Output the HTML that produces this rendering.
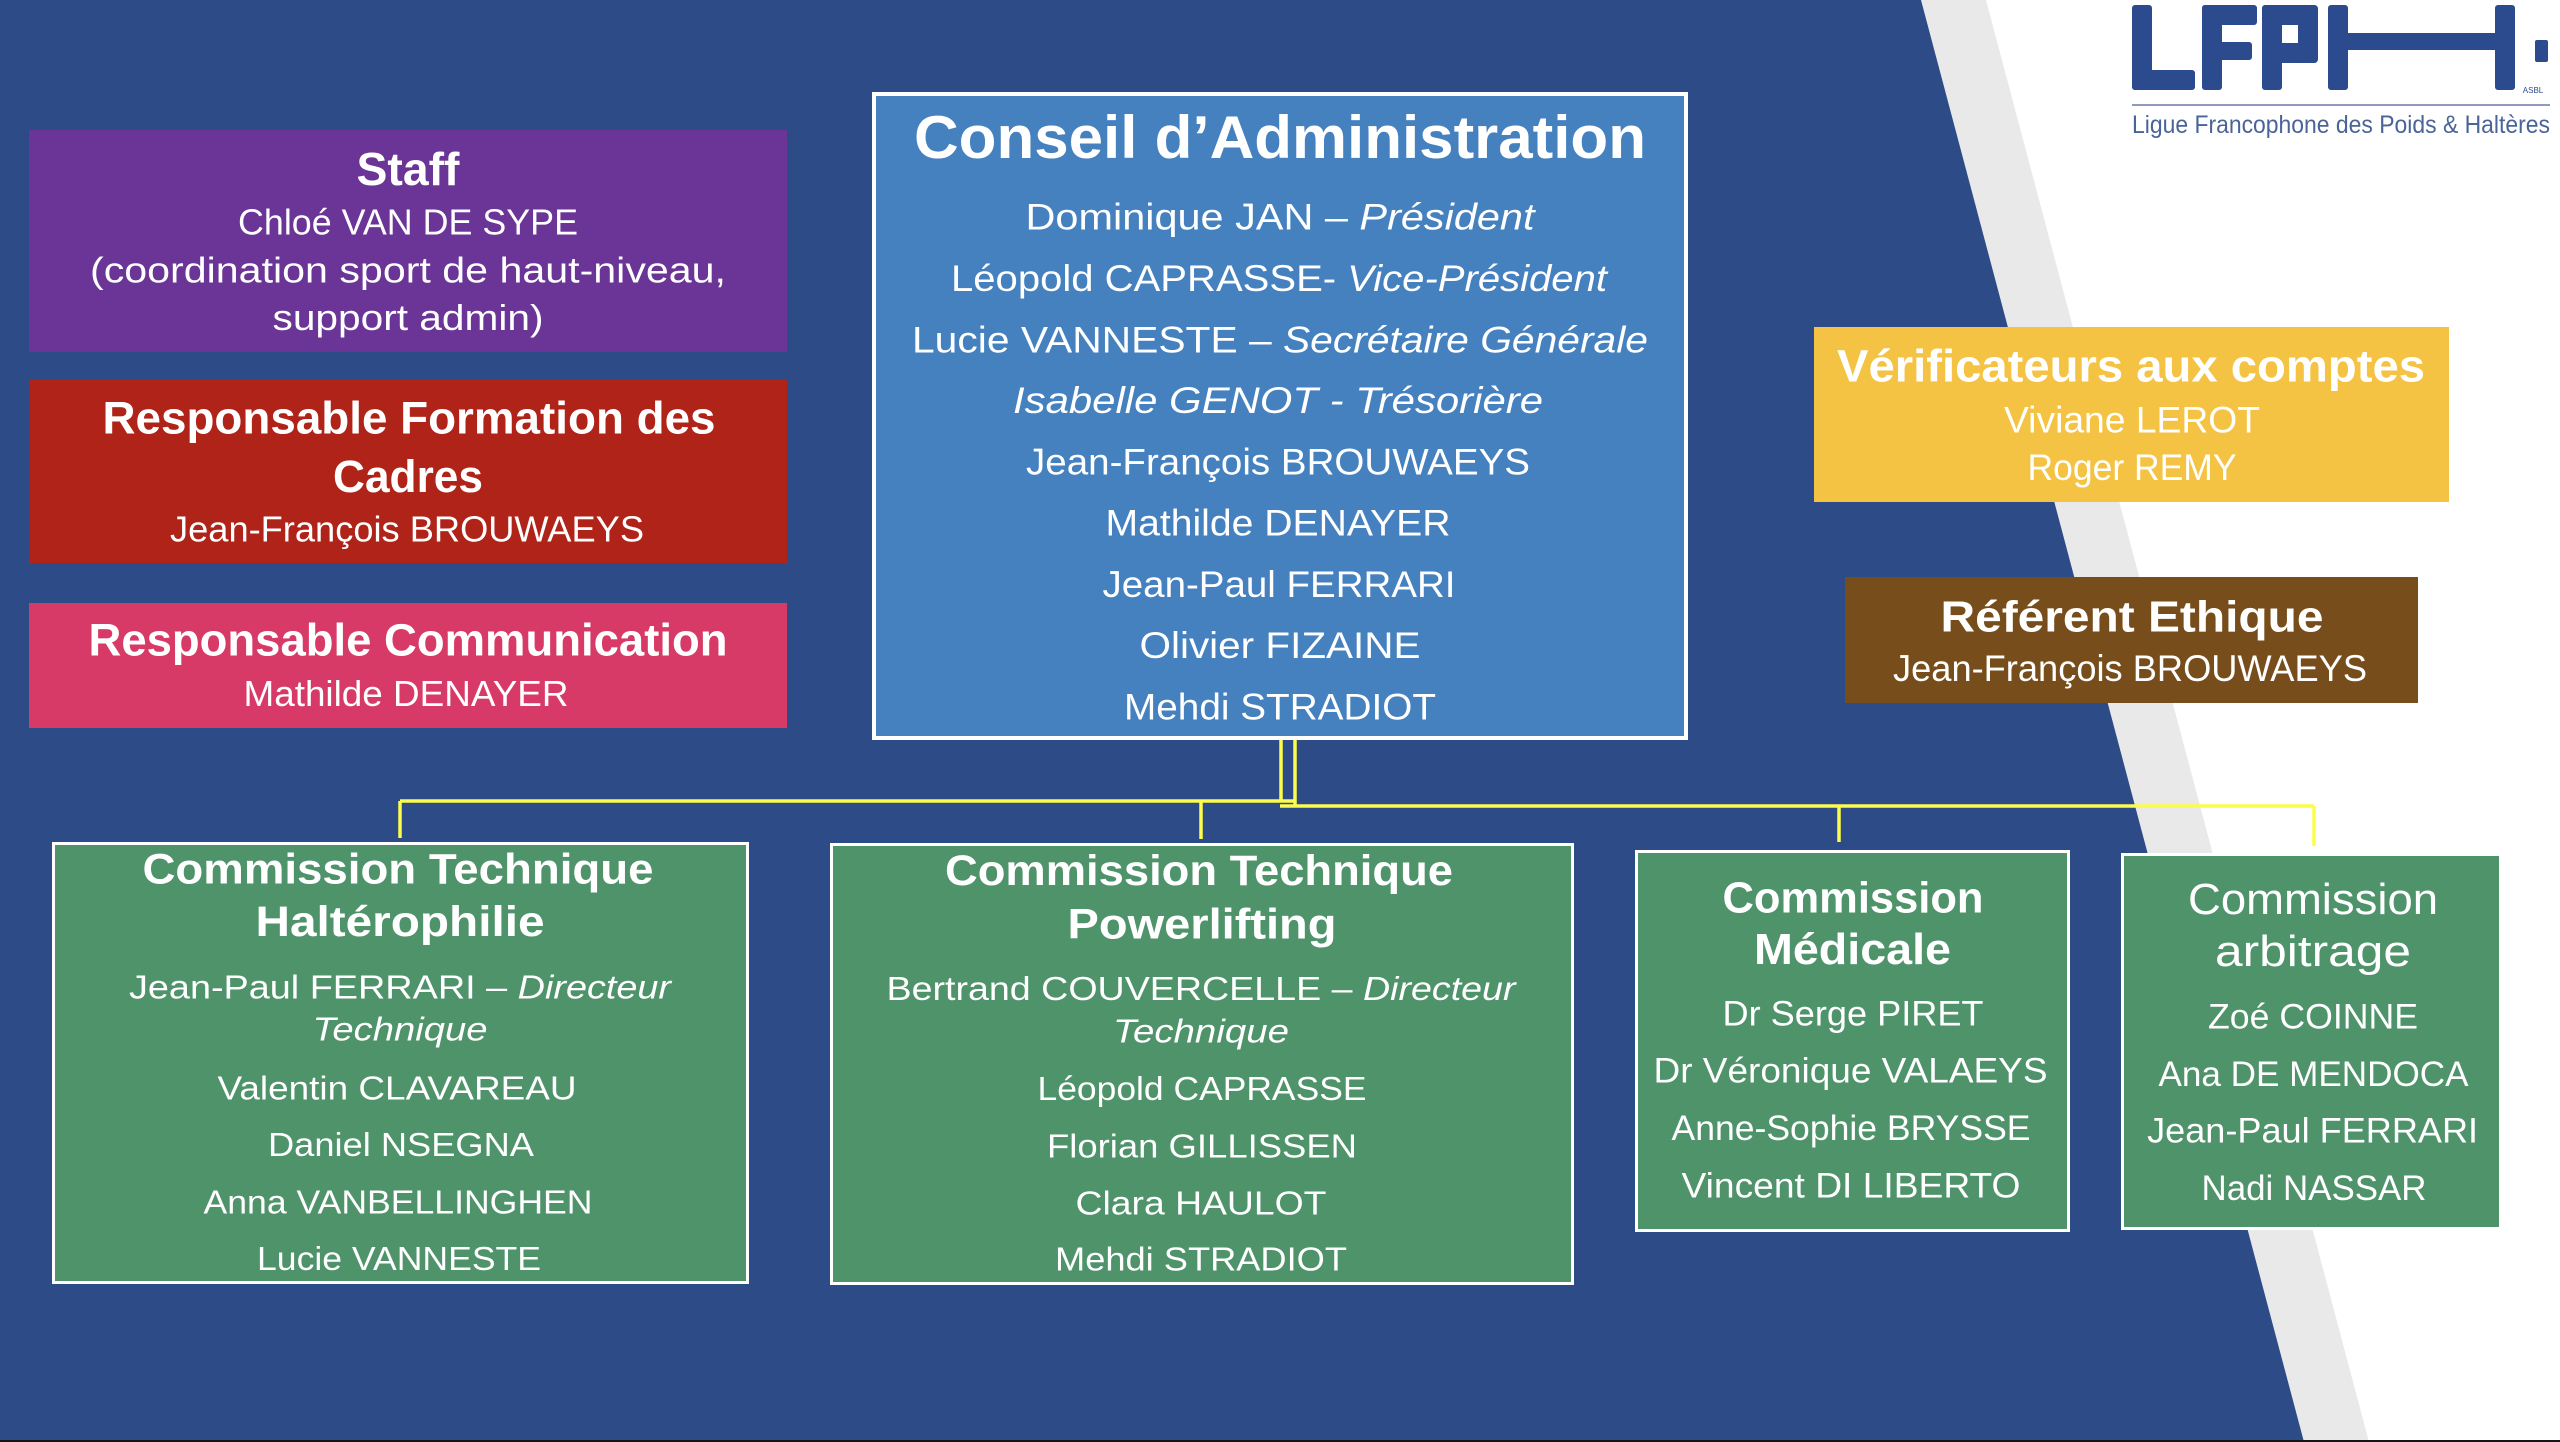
<!DOCTYPE html>
<html>
<head>
<meta charset="utf-8">
<style>
html,body{margin:0;padding:0;background:#fff;}
body{width:2560px;height:1442px;overflow:hidden;}
svg{display:block;}
text{font-family:"Liberation Sans", Arial, sans-serif;fill:#fff;}
.b{font-weight:bold;}
.i{font-style:italic;}
</style>
</head>
<body>
<svg width="2560" height="1442" viewBox="0 0 2560 1442" xmlns="http://www.w3.org/2000/svg">
  <!-- background -->
  <rect x="0" y="0" width="2560" height="1442" fill="#ffffff"/>
  <polygon points="1921,0 1986,0 2369,1442 2304,1442" fill="#e9e9e9"/>
  <polygon points="0,0 1921,0 2304,1442 0,1442" fill="#2d4b87"/>
  <rect x="0" y="1440" width="2560" height="2" fill="#141414"/>

  <!-- Logo -->
  <g fill="#2c4a8e">
    <rect x="2132" y="5" width="20" height="85" rx="3"/>
    <rect x="2132" y="70" width="63" height="20" rx="3"/>
    <rect x="2202" y="5" width="20" height="85" rx="3"/>
    <rect x="2202" y="5" width="55" height="20" rx="3"/>
    <rect x="2202" y="42" width="50" height="18" rx="3"/>
    <rect x="2262" y="5" width="20" height="85" rx="3"/>
    <rect x="2262" y="5" width="56" height="20" rx="4"/>
    <rect x="2262" y="43" width="56" height="20" rx="4"/>
    <rect x="2298" y="5" width="20" height="58" rx="4"/>
    <rect x="2328" y="5" width="20" height="85" rx="3"/>
    <rect x="2346" y="33" width="151" height="17"/>
    <rect x="2495" y="5" width="20" height="85" rx="3"/>
    <rect x="2535" y="40" width="13" height="22" rx="2"/>
  </g>
  <text x="2533" y="93" font-size="8" text-anchor="middle" style="fill:#2c4a8e">ASBL</text>
  <rect x="2132" y="104" width="418" height="2" fill="#8d9cbc"/>
  <text x="2341" y="133" font-size="25" text-anchor="middle" textLength="418" lengthAdjust="spacingAndGlyphs" style="fill:#4a6499">Ligue Francophone des Poids &amp; Haltères</text>

  <!-- Connectors -->
  <g stroke="#fcfc4c" stroke-width="3.5" fill="none">
    <line x1="1281" y1="740" x2="1281" y2="801"/>
    <line x1="1295" y1="740" x2="1295" y2="806"/>
    <line x1="400" y1="801" x2="1295" y2="801"/>
    <line x1="1280" y1="806" x2="2314" y2="806"/>
    <line x1="400" y1="801" x2="400" y2="838"/>
    <line x1="1201" y1="801" x2="1201" y2="839"/>
    <line x1="1839" y1="806" x2="1839" y2="842"/>
    <line x1="2314" y1="806" x2="2314" y2="846"/>
  </g>

  <!-- Left boxes -->
  <rect x="29" y="130" width="758" height="222" fill="#6a3596"/>
  <text x="408" y="185" font-size="46" class="b" text-anchor="middle" textLength="103" lengthAdjust="spacingAndGlyphs">Staff</text>
  <text x="408" y="234.7" font-size="36" text-anchor="middle" textLength="340" lengthAdjust="spacingAndGlyphs">Chloé VAN DE SYPE</text>
  <text x="408" y="282.4" font-size="36" text-anchor="middle" textLength="636" lengthAdjust="spacingAndGlyphs">(coordination sport de haut-niveau,</text>
  <text x="408" y="330" font-size="36" text-anchor="middle" textLength="271" lengthAdjust="spacingAndGlyphs">support admin)</text>

  <rect x="29" y="380" width="758" height="183" fill="#b02318"/>
  <text x="409" y="433.7" font-size="45" class="b" text-anchor="middle" textLength="613" lengthAdjust="spacingAndGlyphs">Responsable Formation des</text>
  <text x="408" y="491.8" font-size="45" class="b" text-anchor="middle" textLength="150" lengthAdjust="spacingAndGlyphs">Cadres</text>
  <text x="407" y="541.5" font-size="36" text-anchor="middle" textLength="474" lengthAdjust="spacingAndGlyphs">Jean-François BROUWAEYS</text>

  <rect x="29" y="603" width="758" height="125" fill="#d73a66"/>
  <text x="408" y="655.6" font-size="45" class="b" text-anchor="middle" textLength="639" lengthAdjust="spacingAndGlyphs">Responsable Communication</text>
  <text x="406" y="706" font-size="36" text-anchor="middle" textLength="325" lengthAdjust="spacingAndGlyphs">Mathilde DENAYER</text>

  <!-- Conseil d'Administration -->
  <rect x="874" y="94" width="812" height="644" fill="#4581bf" stroke="#ffffff" stroke-width="4"/>
  <text x="1280" y="158" font-size="60" class="b" text-anchor="middle" textLength="732" lengthAdjust="spacingAndGlyphs">Conseil d’Administration</text>
  <text x="1280" y="229.6" font-size="37" text-anchor="middle" textLength="509" lengthAdjust="spacingAndGlyphs">Dominique JAN – <tspan class="i">Président</tspan></text>
  <text x="1279" y="291.2" font-size="37" text-anchor="middle" textLength="656" lengthAdjust="spacingAndGlyphs">Léopold CAPRASSE- <tspan class="i">Vice-Président</tspan></text>
  <text x="1280" y="352.3" font-size="37" text-anchor="middle" textLength="736" lengthAdjust="spacingAndGlyphs">Lucie VANNESTE – <tspan class="i">Secrétaire Générale</tspan></text>
  <text x="1278" y="413" font-size="37" class="i" text-anchor="middle" textLength="530" lengthAdjust="spacingAndGlyphs">Isabelle GENOT - Trésorière</text>
  <text x="1278" y="474.6" font-size="37" text-anchor="middle" textLength="504" lengthAdjust="spacingAndGlyphs">Jean-François BROUWAEYS</text>
  <text x="1278" y="535.3" font-size="37" text-anchor="middle" textLength="345" lengthAdjust="spacingAndGlyphs">Mathilde DENAYER</text>
  <text x="1279" y="596.9" font-size="37" text-anchor="middle" textLength="353" lengthAdjust="spacingAndGlyphs">Jean-Paul FERRARI</text>
  <text x="1280" y="658" font-size="37" text-anchor="middle" textLength="281" lengthAdjust="spacingAndGlyphs">Olivier FIZAINE</text>
  <text x="1280" y="719.6" font-size="37" text-anchor="middle" textLength="312" lengthAdjust="spacingAndGlyphs">Mehdi STRADIOT</text>

  <!-- Right boxes -->
  <rect x="1814" y="327" width="635" height="175" fill="#f5c343"/>
  <text x="2131" y="381.7" font-size="45" class="b" text-anchor="middle" textLength="588" lengthAdjust="spacingAndGlyphs">Vérificateurs aux comptes</text>
  <text x="2132" y="432.7" font-size="37" text-anchor="middle" textLength="256" lengthAdjust="spacingAndGlyphs">Viviane LEROT</text>
  <text x="2132" y="480" font-size="37" text-anchor="middle" textLength="209" lengthAdjust="spacingAndGlyphs">Roger REMY</text>

  <rect x="1845" y="577" width="573" height="126" fill="#774e1b"/>
  <text x="2132" y="631.7" font-size="44" class="b" text-anchor="middle" textLength="383" lengthAdjust="spacingAndGlyphs">Référent Ethique</text>
  <text x="2130" y="681" font-size="37" text-anchor="middle" textLength="474" lengthAdjust="spacingAndGlyphs">Jean-François BROUWAEYS</text>

  <!-- Commission Technique Haltérophilie -->
  <rect x="53.5" y="843.5" width="694" height="439" fill="#4f936b" stroke="#ffffff" stroke-width="3"/>
  <text x="398" y="883.3" font-size="43" class="b" text-anchor="middle" textLength="511" lengthAdjust="spacingAndGlyphs">Commission Technique</text>
  <text x="400" y="936" font-size="43" class="b" text-anchor="middle" textLength="289" lengthAdjust="spacingAndGlyphs">Haltérophilie</text>
  <text x="400" y="998.3" font-size="33" text-anchor="middle" textLength="542" lengthAdjust="spacingAndGlyphs">Jean-Paul FERRARI – <tspan class="i">Directeur</tspan></text>
  <text x="400" y="1040.7" font-size="33" class="i" text-anchor="middle" textLength="175" lengthAdjust="spacingAndGlyphs">Technique</text>
  <text x="397" y="1099.3" font-size="33" text-anchor="middle" textLength="359" lengthAdjust="spacingAndGlyphs">Valentin CLAVAREAU</text>
  <text x="401" y="1156" font-size="33" text-anchor="middle" textLength="266" lengthAdjust="spacingAndGlyphs">Daniel NSEGNA</text>
  <text x="398" y="1213.3" font-size="33" text-anchor="middle" textLength="389" lengthAdjust="spacingAndGlyphs">Anna VANBELLINGHEN</text>
  <text x="399" y="1270" font-size="33" text-anchor="middle" textLength="284" lengthAdjust="spacingAndGlyphs">Lucie VANNESTE</text>

  <!-- Commission Technique Powerlifting -->
  <rect x="831.5" y="844.5" width="741" height="439" fill="#4f936b" stroke="#ffffff" stroke-width="3"/>
  <text x="1199" y="885" font-size="43" class="b" text-anchor="middle" textLength="508" lengthAdjust="spacingAndGlyphs">Commission Technique</text>
  <text x="1202" y="938.3" font-size="43" class="b" text-anchor="middle" textLength="269" lengthAdjust="spacingAndGlyphs">Powerlifting</text>
  <text x="1201" y="1000" font-size="33" text-anchor="middle" textLength="629" lengthAdjust="spacingAndGlyphs">Bertrand COUVERCELLE – <tspan class="i">Directeur</tspan></text>
  <text x="1201" y="1042.7" font-size="33" class="i" text-anchor="middle" textLength="176" lengthAdjust="spacingAndGlyphs">Technique</text>
  <text x="1202" y="1100" font-size="33" text-anchor="middle" textLength="329" lengthAdjust="spacingAndGlyphs">Léopold CAPRASSE</text>
  <text x="1202" y="1157.3" font-size="33" text-anchor="middle" textLength="310" lengthAdjust="spacingAndGlyphs">Florian GILLISSEN</text>
  <text x="1201" y="1214.3" font-size="33" text-anchor="middle" textLength="251" lengthAdjust="spacingAndGlyphs">Clara HAULOT</text>
  <text x="1201" y="1270.7" font-size="33" text-anchor="middle" textLength="292" lengthAdjust="spacingAndGlyphs">Mehdi STRADIOT</text>

  <!-- Commission Médicale -->
  <rect x="1636.5" y="851.5" width="432" height="379" fill="#4f936b" stroke="#ffffff" stroke-width="3"/>
  <text x="1853" y="912.7" font-size="44" class="b" text-anchor="middle" textLength="261" lengthAdjust="spacingAndGlyphs">Commission</text>
  <text x="1852.5" y="964" font-size="44" class="b" text-anchor="middle" textLength="197" lengthAdjust="spacingAndGlyphs">Médicale</text>
  <text x="1853" y="1025.7" font-size="35" text-anchor="middle" textLength="261" lengthAdjust="spacingAndGlyphs">Dr Serge PIRET</text>
  <text x="1850.5" y="1082.7" font-size="35" text-anchor="middle" textLength="394" lengthAdjust="spacingAndGlyphs">Dr Véronique VALAEYS</text>
  <text x="1851" y="1140" font-size="35" text-anchor="middle" textLength="359" lengthAdjust="spacingAndGlyphs">Anne-Sophie BRYSSE</text>
  <text x="1851" y="1197.3" font-size="35" text-anchor="middle" textLength="339" lengthAdjust="spacingAndGlyphs">Vincent DI LIBERTO</text>

  <!-- Commission arbitrage -->
  <rect x="2122.5" y="854.5" width="378" height="374" fill="#4f936b" stroke="#ffffff" stroke-width="3"/>
  <text x="2313" y="914" font-size="44" text-anchor="middle" textLength="250" lengthAdjust="spacingAndGlyphs">Commission</text>
  <text x="2313" y="966" font-size="44" text-anchor="middle" textLength="196" lengthAdjust="spacingAndGlyphs">arbitrage</text>
  <text x="2313" y="1028.3" font-size="35" text-anchor="middle" textLength="210" lengthAdjust="spacingAndGlyphs">Zoé COINNE</text>
  <text x="2313.5" y="1086" font-size="35" text-anchor="middle" textLength="310" lengthAdjust="spacingAndGlyphs">Ana DE MENDOCA</text>
  <text x="2312.6" y="1142.7" font-size="35" text-anchor="middle" textLength="331" lengthAdjust="spacingAndGlyphs">Jean-Paul FERRARI</text>
  <text x="2314" y="1200" font-size="35" text-anchor="middle" textLength="225" lengthAdjust="spacingAndGlyphs">Nadi NASSAR</text>
</svg>
</body>
</html>
